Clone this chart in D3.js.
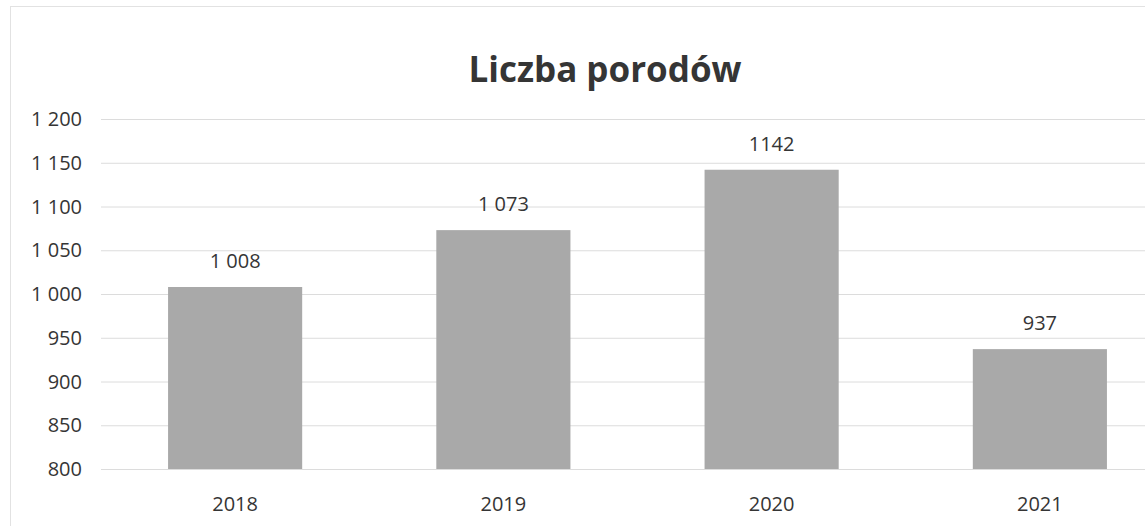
<!DOCTYPE html>
<html>
<head>
<meta charset="utf-8">
<script src="https://cdn.jsdelivr.net/npm/d3@7"></script>
<style>
  body { margin: 0; background: #fff; }
  svg text { font-family: "Open Sans", "Noto Sans", sans-serif; fill: #353535; }
</style>
</head>
<body>
<div id="chart"></div>
<script>
// data
var years = ["2018", "2019", "2020", "2021"];
var births = [1008, 1073, 1142, 937];
var birthLabels = ["1 008", "1 073", "1142", "937"];
var yTicks = [800, 850, 900, 950, 1000, 1050, 1100, 1150, 1200];

var width = 1145, height = 526;
var margin = {top: 119, right: -29, bottom: 57, left: 101};

var svg = d3.select("#chart").append("svg")
    .attr("width", width)
    .attr("height", height);

// faint chart frame
svg.append("rect")
    .attr("x", 10.5).attr("y", 6.5)
    .attr("width", width + 20).attr("height", height + 20)
    .attr("fill", "none")
    .attr("stroke", "#e2e2e2");

var x = d3.scaleBand()
    .domain(years)
    .range([margin.left, width - margin.right])
    .paddingInner(0.5)
    .paddingOuter(0.25);

var y = d3.scaleLinear()
    .domain([800, 1200])
    .range([height - margin.bottom, margin.top]);

var fmt = function(d) {
    return d3.format(",")(d).replace(",", " ");
};

// gridlines
svg.append("g")
    .selectAll("line")
    .data(yTicks)
    .enter()
    .append("line")
        .attr("x1", margin.left)
        .attr("x2", width)
        .attr("y1", function(d) { return y(d) + 0.5; })
        .attr("y2", function(d) { return y(d) + 0.5; })
        .attr("stroke", "#dcdcdc")
        .attr("stroke-width", 1);

// y labels
svg.append("g")
    .selectAll("text")
    .data(yTicks)
    .enter()
    .append("text")
        .attr("x", 82)
        .attr("y", function(d) { return y(d); })
        .attr("dy", "0.35em")
        .attr("text-anchor", "end")
        .style("font-size", "20px")
        .text(fmt);

// bars
svg.append("g")
    .selectAll("rect")
    .data(births)
    .enter()
    .append("rect")
        .attr("x", function(d, i) { return x(years[i]); })
        .attr("y", function(d) { return y(d); })
        .attr("width", x.bandwidth())
        .attr("height", function(d) { return y(800) - y(d); })
        .attr("fill", "#a9a9a9");

// value labels
svg.append("g")
    .selectAll("text")
    .data(births)
    .enter()
    .append("text")
        .attr("x", function(d, i) { return x(years[i]) + x.bandwidth() / 2; })
        .attr("y", function(d) { return y(d) - 19; })
        .attr("text-anchor", "middle")
        .style("font-size", "20px")
        .text(function(d, i) { return birthLabels[i]; });

// x labels
svg.append("g")
    .selectAll("text")
    .data(years)
    .enter()
    .append("text")
        .attr("x", function(d) { return x(d) + x.bandwidth() / 2; })
        .attr("y", 511)
        .attr("text-anchor", "middle")
        .style("font-size", "20px")
        .text(function(d) { return d; });

// title
svg.append("text")
    .attr("x", 605)
    .attr("y", 82)
    .attr("text-anchor", "middle")
    .style("font-size", "35px")
    .style("font-weight", "bold")
    .text("Liczba porodów");
</script>
</body>
</html>
